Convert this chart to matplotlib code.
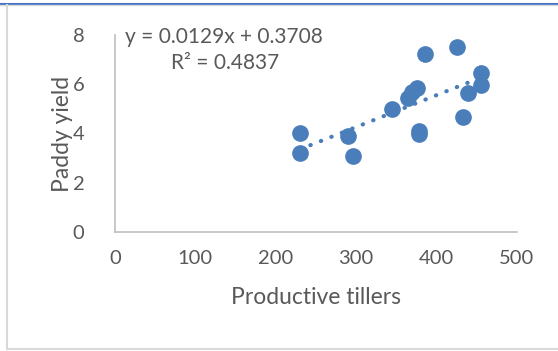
import numpy as np
import matplotlib.pyplot as plt
from matplotlib.lines import Line2D

plt.rcParams['font.family'] = ['Lato', 'DejaVu Sans']

#%% Data
tillers = np.array([230, 230, 290, 296, 345, 364, 369, 375, 378, 378,
                    386, 425, 433, 439, 455, 455])
yield_ = np.array([4.03, 3.22, 3.91, 3.10, 4.98, 5.46, 5.69, 5.85, 4.10, 3.96,
                   7.22, 7.52, 4.68, 5.65, 6.46, 5.95])
eq_text = 'y = 0.0129x + 0.3708'
r2_text = 'R² = 0.4837'
xticks = [0, 100, 200, 300, 400, 500]
yticks = [0, 2, 4, 6, 8]

blue = '#4A7EBB'
txt = '#595959'
axc = '#BFBFBF'

fig = plt.figure(figsize=(5.58, 3.51), dpi=100)
ax = fig.add_axes([115/558, 1 - 232/351, (517-115)/558, (232-35)/351])

ax.plot(tillers, yield_, 'o', color=blue, ms=11, mec=blue, zorder=3)

# linear trend line
k, b = np.polyfit(tillers, yield_, 1)
xx = np.array([tillers.min(), tillers.max()])
ax.plot(xx, k*xx + b, linestyle=(0, (0.1, 2.6)), dash_capstyle='round',
        color=blue, lw=3, zorder=2)

ax.set_xlim(0, 500)
ax.set_ylim(0, 8)
ax.set_xticks(xticks)
ax.set_yticks(yticks)
ax.tick_params(length=0, labelsize=14.5, colors=txt, pad=13)
ax.tick_params(axis='y', pad=22)
for s in ['top', 'right']:
    ax.spines[s].set_visible(False)
for s in ['left', 'bottom']:
    ax.spines[s].set_color(axc)
    ax.spines[s].set_linewidth(1.2)

ax.set_xlabel('Productive tillers', fontsize=16.5, color=txt, labelpad=14)
ax.set_ylabel('Paddy yield', fontsize=16.5, color=txt, labelpad=0)

ax.text(12, 7.92, eq_text, fontsize=15, color=txt, va='center', ha='left')
ax.text(70, 6.88, r2_text, fontsize=15, color=txt, va='center', ha='left')

# chart area border
fig.add_artist(Line2D([0, 1], [1 - 3.5/351]*2, color='#4472C4', lw=1.5))
fig.add_artist(Line2D([0, 1], [1 - 5/351]*2, color='#D9D9D9', lw=1))
fig.add_artist(Line2D([6.5/558]*2, [1 - 5/351, 1 - 349/351], color='#D9D9D9', lw=1.5))
fig.add_artist(Line2D([6.5/558, 1], [1 - 349/351]*2, color='#D9D9D9', lw=1.5))

fig.savefig('out.png', dpi=100)
